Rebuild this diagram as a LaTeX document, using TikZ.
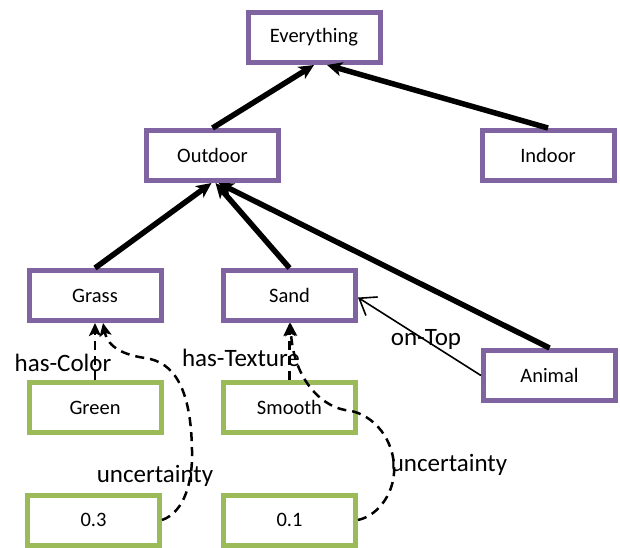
\documentclass[tikz,border=0pt]{standalone}
\usepackage{fontspec}
\setmainfont{Carlito}
\usetikzlibrary{arrows.meta}
\definecolor{classpurple}{HTML}{8064A2}
\definecolor{valgreen}{HTML}{9BBB59}
\tikzset{
  box/.style={draw, line width=5pt, fill=white, minimum width=132pt,
    minimum height=50pt, inner sep=0pt, font=\fontsize{20.5}{24}\selectfont},
  classbox/.style={box, draw=classpurple},
  valbox/.style={box, draw=valgreen},
  isa/.style={line width=5.5pt,
    -{Stealth[length=15pt,width=14pt,inset=4pt]}},
  prop/.style={line width=2.5pt, dash pattern=on 9pt off 6pt,
    -{Stealth[length=13pt,width=12pt,inset=3pt]}},
  relation/.style={line width=1.6pt,
    -{Straight Barb[length=15pt,width=22pt,line width=1.6pt]}},
  lbl/.style={inner sep=0pt, font=\fontsize{25}{29}\selectfont}
}
\begin{document}
\begin{tikzpicture}[x=1pt,y=-1pt]
\useasboundingbox (0,0) rectangle (620,547);

% concept hierarchy
\node[classbox] (everything) at (314,37.5) {Everything};
\node[classbox] (outdoor) at (212.5,155.5) {Outdoor};
\node[classbox] (indoor) at (548,155.5) {Indoor};
\node[classbox] (grass) at (95,295.5) {Grass};
\node[classbox] (sand) at (289.5,295.5) {Sand};
\node[classbox] (animal) at (549.5,375.5) {Animal};

% attribute values
\node[valbox] (green) at (95,407.5) {Green};
\node[valbox] (smooth) at (289.5,407.5) {Smooth};
\node[valbox] (p3) at (93.5,520) {0.3};
\node[valbox] (p1) at (289.5,520) {0.1};

% subclass links
\draw[isa] (outdoor.north) -- (everything.south);
\draw[isa] (indoor.north) -- ([xshift=13pt]everything.south);
\draw[isa] (grass.north) -- ([xshift=-1pt]outdoor.south);
\draw[isa] (sand.north) -- ([xshift=3pt]outdoor.south);
\draw[isa] (animal.north) -- ([xshift=6pt]outdoor.south);

% spatial relation
\draw[relation] (animal.west) -- ([yshift=-2pt]sand.east);

% attribute links
\draw[prop] (green.north) -- (grass.south);
\draw[prop] (smooth.north) -- (sand.south);

% uncertainty on the attribute links
\draw[prop] (p3.east) .. controls (185,512) and (193,480) .. (192,450)
  .. controls (191,390) and (175,362) .. (145,358)
  .. controls (125,355) and (108,348) .. ([xshift=8pt]grass.south);
\draw[prop] (p1.east) .. controls (380,515) and (396,490) .. (394,465)
  .. controls (392,435) and (370,412) .. (345,410)
  .. controls (318,405) and (293,375) .. ([xshift=1pt]sand.south);

% link labels
\node[lbl] (lcolor) at (63,363) {has-Color};
\node[lbl] (ltexture) at (241,358) {has-Texture};
\node[lbl] (lontop) at (426,339) {on-Top};
\node[lbl] (lunc1) at (155,476) {uncertainty};
\node[lbl] (lunc2) at (449,465) {uncertainty};
\end{tikzpicture}
\end{document}
